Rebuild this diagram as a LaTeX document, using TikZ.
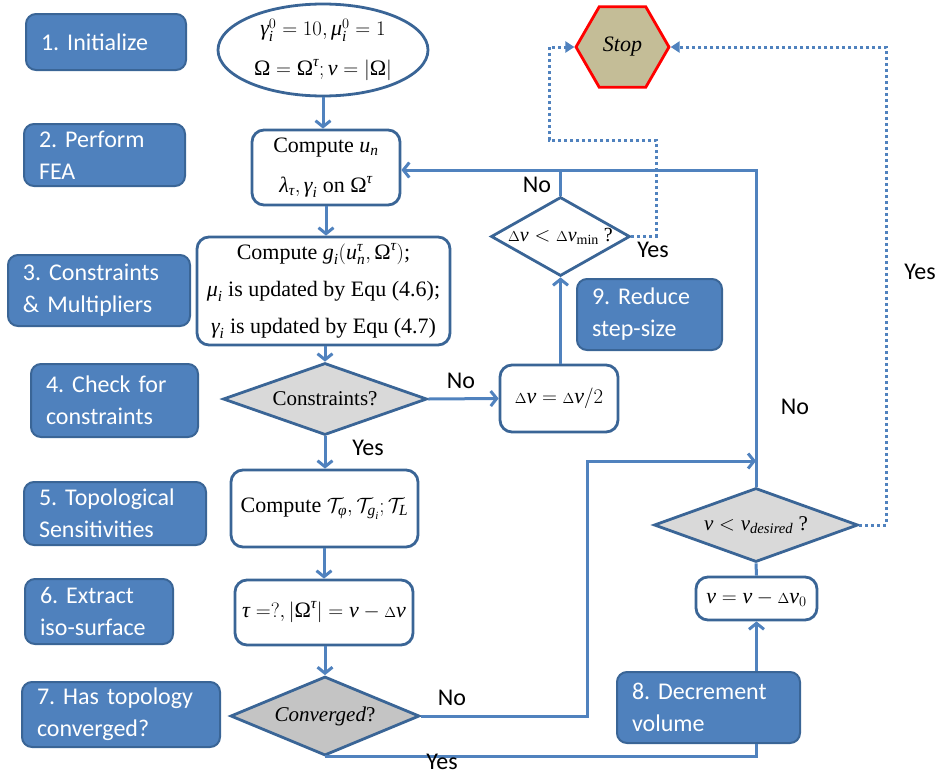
\documentclass[tikz,border=0pt]{standalone}
\usepackage{amsmath}
\usepackage{fontspec}
\setmainfont{Liberation Serif}
\newfontfamily\labfont{Carlito}
\usetikzlibrary{shapes.geometric,arrows.meta}
\definecolor{lblue}{HTML}{4F81BD}
\definecolor{dblue}{HTML}{3A6596}
\definecolor{conn}{HTML}{5082BE}
\definecolor{stopfill}{HTML}{C4BD97}
\definecolor{gfill}{HTML}{D9D9D9}
\definecolor{gfilldk}{HTML}{C4C4C4}
\newcommand{\dlt}{{\scriptstyle\Delta}}
\newcommand{\ti}[1]{\textit{#1}}
\newcommand{\Om}{\text{Ω}}
\frenchspacing
\begin{document}
\begin{tikzpicture}[x=1pt,y=-1pt,
  lbl/.style={draw=dblue, line width=2pt, fill=lblue, rounded corners=10pt, text=white,
    font={\labfont\fontsize{24}{32}\selectfont}, align=left, inner xsep=15pt, inner ysep=0pt},
  proc/.style={draw=dblue, line width=2.8pt, fill=white, rounded corners=12pt, align=center,
    inner sep=0pt, font={\fontsize{22}{37}\selectfont}},
  dec/.style={diamond, draw=dblue, line width=2.8pt, inner sep=0pt, align=center,
    font={\fontsize{21}{24}\selectfont}},
  arr/.style={draw=conn, line width=3pt, -{Straight Barb[length=6pt,width=15pt]}},
  ln/.style={draw=conn, line width=3pt},
  dotarr/.style={draw=conn, line width=3pt, dash pattern=on 3pt off 3pt, -{Triangle[length=9pt,width=11pt]}},
  yn/.style={font={\labfont\fontsize{24}{26}\selectfont}, inner sep=0pt}
]
\useasboundingbox (0,0) rectangle (942,774);

% left labels
\node[lbl, minimum width=160pt, minimum height=56pt, text width=130pt] (l1) at (106,42) {1. Initialize};
\node[lbl, minimum width=161pt, minimum height=62pt, text width=131pt] (l2) at (104.5,155) {2. Perform\\FEA};
\node[lbl, minimum width=182pt, minimum height=71pt, text width=152pt] (l3) at (99,290.5) {3. Constraints\\\& Multipliers};
\node[lbl, minimum width=167pt, minimum height=73pt, text width=137pt] (l4) at (114.5,400.5) {4. Check for\\constraints};
\node[lbl, minimum width=182pt, minimum height=63pt, text width=152pt] (l5) at (115,513.5) {5. Topological\\Sensitivities};
\node[lbl, minimum width=148pt, minimum height=65pt, text width=118pt] (l6) at (99,611.5) {6. Extract\\iso-surface};
\node[lbl, minimum width=198pt, minimum height=65pt, text width=168pt] (l7) at (121,714.5) {7. Has topology\\converged?};
\node[lbl, minimum width=183pt, minimum height=71pt, text width=153pt] (l8) at (708.5,707.5) {8. Decrement\\volume};
\node[lbl, minimum width=145pt, minimum height=71pt, text width=115pt] (l9) at (649.5,314.5) {9. Reduce\\step-size};

% main column
\node[ellipse, draw=dblue, line width=2.8pt, minimum width=210pt, minimum height=92pt, inner sep=0pt,
  align=center, font={\fontsize{22}{40}\selectfont}] (e1) at (323,50)
  {$\ti{γ}_{\ti{i}}^{0}=10,\ti{μ}_{\ti{i}}^{0}=1$\\$\Om=\Om^{\ti{τ}};\ti{v}=\left|\Om\right|$};
\node[proc, minimum width=148pt, minimum height=75pt, font={\fontsize{22}{40}\selectfont}] (c2) at (326,167.5)
  {Compute $\ti{u}_{\ti{n}}$\\$\ti{λ}_{\ti{τ}},\ti{γ}_{\ti{i}}$ on $\Om^{\ti{τ}}$};
\node[proc, minimum width=253pt, minimum height=108pt] (c3) at (323.5,291)
  {Compute $\ti{g}_{\ti{i}}(\ti{u}_{\ti{n}}^{\ti{τ}},\Om^{\ti{τ}})$;\\$\ti{μ}_{\ti{i}}$ is updated by Equ (4.6);\\$\ti{γ}_{\ti{i}}$ is updated by Equ (4.7)};
\node[dec, fill=gfill, minimum width=204pt, minimum height=72pt] (d4) at (325,399) {\makebox[0pt]{Constraints?}};
\node[proc, minimum width=187pt, minimum height=77pt] (c5) at (324.5,508.5)
  {Compute $\mathcal{T}_{\ti{φ}},\mathcal{T}_{\ti{g}_{\ti{i}}};\mathcal{T}_{\ti{L}}$};
\node[proc, minimum width=178pt, minimum height=65pt] (c6) at (324,612.5)
  {$\ti{τ}=?,\left|\Om^{\ti{τ}}\right|=\ti{v}-\dlt\ti{v}$};
\node[dec, fill=gfilldk, minimum width=189pt, minimum height=79pt] (d7) at (325,716) {\makebox[0pt]{\textit{Converged}?}};

% right part
\node[proc, minimum width=118pt, minimum height=67pt] (h) at (559,398.5) {$\dlt\ti{v}=\dlt\ti{v}/2$};
\node[dec, fill=white, minimum width=139pt, minimum height=79pt, font={\fontsize{20}{24}\selectfont}] (dm) at (560.5,236.5)
  {\makebox[0pt]{$\dlt\ti{v}<\dlt\ti{v}_{\text{min}}$ ?}};
\node[regular polygon, regular polygon sides=6, minimum size=93pt, inner sep=0pt, draw=red,
  line width=2.8pt, fill=stopfill, font={\fontsize{22}{24}\selectfont\itshape}] (stop) at (622.5,47) {Stop};
\node[dec, fill=gfill, minimum width=204pt, minimum height=74pt] (dv) at (756,525)
  {\makebox[0pt]{$\ti{v}<\ti{v}_{\ti{desired}}$ ?}};
\node[proc, minimum width=121pt, minimum height=43pt] (vb) at (756.5,598.5) {$\ti{v}=\ti{v}-\dlt\ti{v}_{0}$};

% coordinates for routing
\coordinate (top) at (560,170);
\coordinate (j1) at (587,461);
\coordinate (dr) at (656,140);
\coordinate (dl) at (549,140);

% connectors
\draw[arr] (e1.south) -- (e1.south |- c2.north);
\draw[arr] (c2.south) -- (c2.south |- c3.north);
\draw[arr] (c3.south -| d4.north) -- (d4.north);
\draw[arr] (d4.east) -- (h.west);
\draw[arr] (d4.south) -- (d4.south |- c5.north);
\draw[arr] (c5.south -| c6.north) -- (c6.north);
\draw[arr] (c6.south -| d7.north) -- (d7.north);
\draw[arr] (h.north -| dm.south) -- (dm.south);
\draw[ln] (dm.north) -- (dm.north |- top);
\draw[arr] (dv.north) -- (dv.north |- top) -- (c2.east |- top);
\draw[arr] (d7.east) -| (j1) -- (j1 -| dv.north);
\draw[ln] (d7.south) -- (d7.south -| dv.south) -- (dv.south |- l8.south);
\draw[arr] (l8.north -| vb.south) -- (vb.south);
\draw[ln] (dv.south) -- (vb.north);
\draw[dotarr] (dv.east) -- ++(27,0) |- (stop.east);
\draw[dotarr] (dm.east) -| (dr) -- (dl) |- (stop.west);

% yes / no
\node[yn] (t1) at (461,381) {No};
\node[yn] (t2) at (368,448) {Yes};
\node[yn] (t3) at (537,185) {No};
\node[yn] (t4) at (653,250) {Yes};
\node[yn] (t5) at (920,272) {Yes};
\node[yn] (t6) at (795,407) {No};
\node[yn] (t7) at (452,698) {No};
\node[yn] (t8) at (442,762) {Yes};
\end{tikzpicture}
\end{document}
